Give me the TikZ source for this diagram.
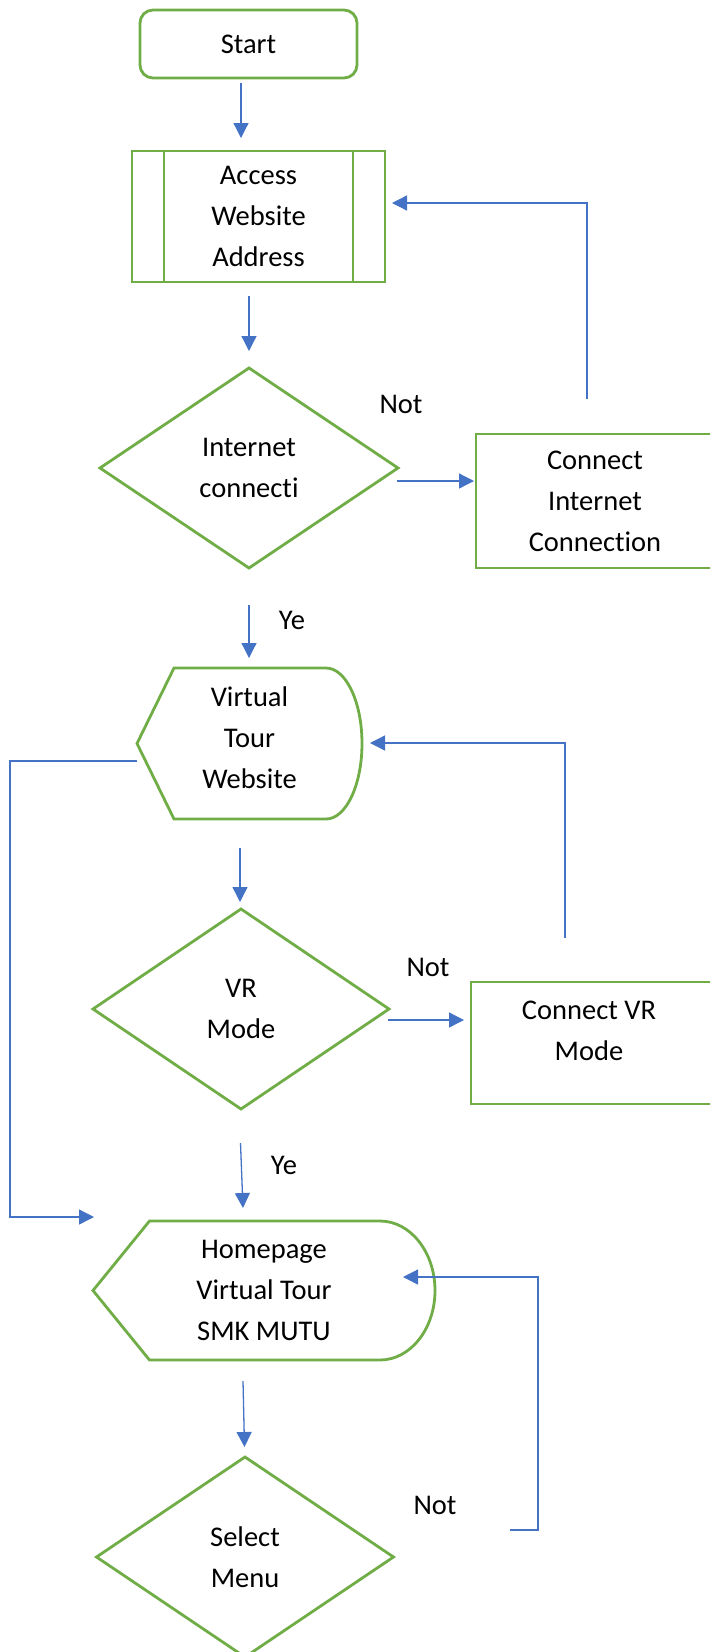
\documentclass[tikz,border=0pt]{standalone}
\usepackage{fontspec}
\setmainfont{Carlito}[Ligatures=NoCommon]
\usetikzlibrary{shapes.geometric, arrows.meta}
\definecolor{flowgreen}{HTML}{70AD47}
\definecolor{flowblue}{HTML}{4472C4}

\begin{document}
\begin{tikzpicture}[x=1pt, y=1pt,
    every node/.style={font=\fontsize{28.5}{41}\selectfont, align=center, inner sep=0pt, outer sep=0pt},
    shapeline/.style={draw=flowgreen, line width=2.8pt},
    terminal/.style={shapeline, rectangle, rounded corners=13pt},
    process/.style={shapeline, rectangle},
    decision/.style={shapeline, diamond},
    link/.style={draw=flowblue, line width=1.3pt},
    arr/.style={link, -{Triangle[length=15pt, width=15pt]}}]
    \clip (0,0) rectangle (710,-1652);
    \node[terminal, minimum width=217, minimum height=68] (start) at (248.5,-44) {Start};
    \node[process, minimum width=253, minimum height=131] (access) at (258.5,-216.5) {Access\\Website\\Address};
    \draw[shapeline] ([xshift=32]access.north west) -- ([xshift=32]access.south west)
        ([xshift=-32]access.north east) -- ([xshift=-32]access.south east);
    \node[decision, minimum width=298, minimum height=200] (inet) at (249,-468) {Internet\\connecti};
    \node[process, minimum width=238, minimum height=134] (fixinet) at (595,-501) {Connect\\Internet\\Connection};
    \node[minimum width=225, minimum height=151] (vtour) at (249.5,-737.5) {Virtual\\Tour\\Website};
    \draw[shapeline] ([yshift=-6]vtour.west) -- ([xshift=37,yshift=-6]vtour.north west) -- ([xshift=-36,yshift=-6]vtour.north east)
        arc[start angle=90, end angle=-90, x radius=36, y radius=75.5] -- ([xshift=37,yshift=-6]vtour.south west) -- cycle;
    \node[decision, minimum width=296, minimum height=200] (vr) at (241,-1009) {VR\\Mode};
    \node[process, minimum width=241, minimum height=122] (fixvr) at (591.5,-1043) {};
    \node (fixvrtext) at (589,-1030.5) {Connect VR\\Mode};
    \node[minimum width=342, minimum height=139] (home) at (264,-1290.5) {Homepage\\Virtual Tour\\SMK MUTU};
    \draw[shapeline] (home.west) -- ([xshift=56.5]home.north west) -- ([xshift=-55]home.north east)
        arc[start angle=90, end angle=-90, x radius=55, y radius=69.5] -- ([xshift=56.5]home.south west) -- cycle;
    \node[decision, minimum width=297, minimum height=200] (menu) at (245,-1557) {Select\\Menu};
    \node (notinet) at (401,-404) {Not};
    \node (yesinet) at (292,-620) {Ye};
    \node (notvr) at (428,-967) {Not};
    \node (yesvr) at (284,-1165) {Ye};
    \node (notmenu) at (435,-1505) {Not};
    \coordinate (skip) at (10,-1217);
    \coordinate (menuout) at (510,-1530);
    \draw[arr] ([xshift=-7.5,yshift=-5]start.south) -- ([xshift=-17.5,yshift=13]access.north);
    \draw[arr] ([xshift=-9.5,yshift=-14]access.south) -- ([yshift=17]inet.north);
    \draw[arr] ([xshift=-1,yshift=-13]inet.east) -- ([xshift=-2,yshift=20]fixinet.west);
    \draw[arr] ([xshift=-8,yshift=35]fixinet.north) |- ([xshift=7,yshift=13.5]access.east);
    \draw[arr] ([yshift=-37]inet.south) -- ([xshift=-0.5,yshift=4]vtour.north);
    \draw[arr] ([xshift=-9.5,yshift=-34.5]vtour.south) -- ([xshift=-1,yshift=7]vr.north);
    \draw[arr] ([xshift=-1,yshift=-11]vr.east) -- ([xshift=-7,yshift=23]fixvr.west);
    \draw[arr] ([xshift=-26.5,yshift=44]fixvr.north) |- ([xshift=8,yshift=-5.5]vtour.east);
    \draw[arr] ([yshift=-23.5]vtour.west) -| (skip) -- ([xshift=1,yshift=4]home.north west);
    \draw[arr] ([xshift=-0.5,yshift=-34]vr.south) -- ([xshift=-21,yshift=13]home.north);
    \draw[arr] ([xshift=-21,yshift=-21]home.south) -- ([xshift=-0.5,yshift=10]menu.north);
    \draw[arr] (menuout) -- ++(28,0) |- ([xshift=-32,yshift=13.5]home.east);
\end{tikzpicture}
\end{document}
